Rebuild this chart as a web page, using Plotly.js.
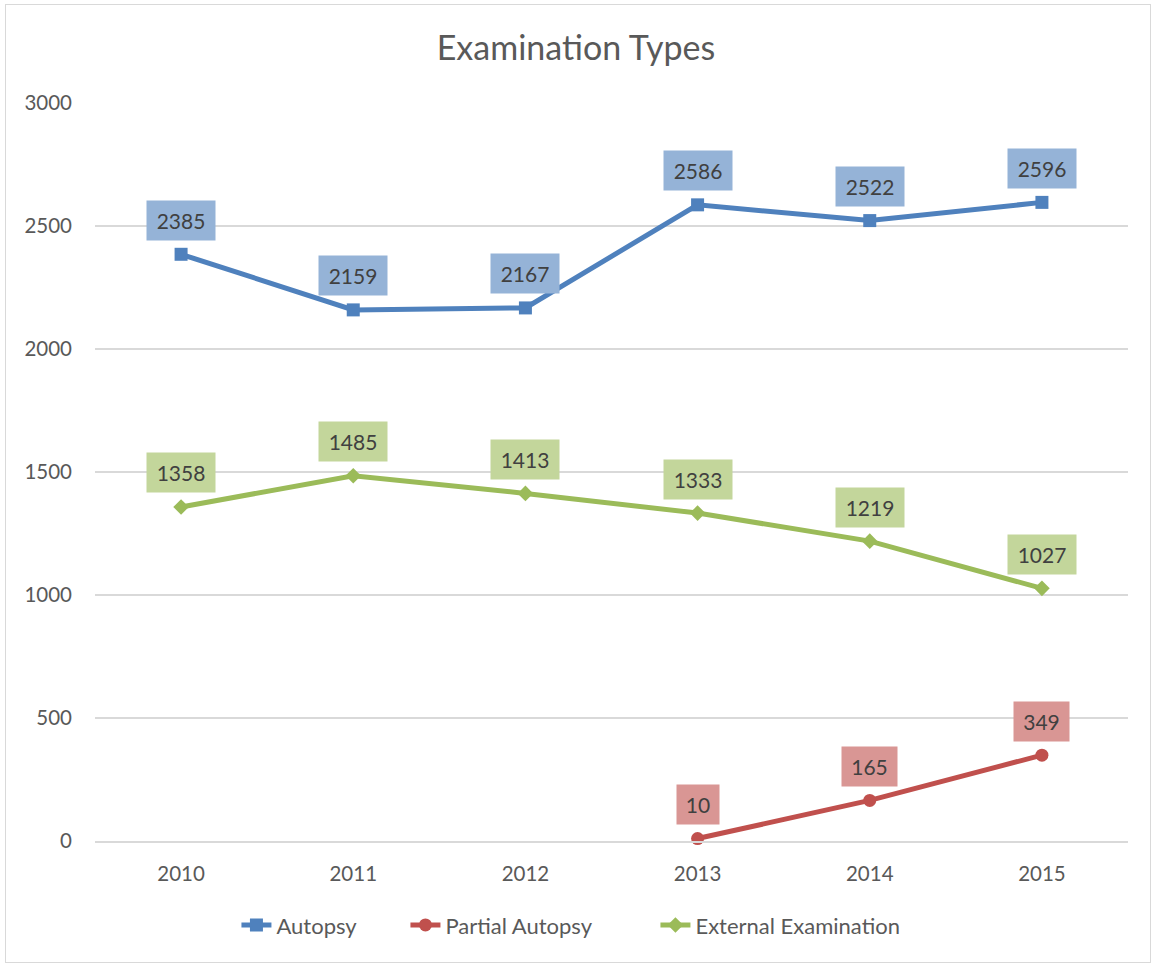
<!DOCTYPE html>
<html><head><meta charset="utf-8">
<script src="https://cdn.plot.ly/plotly-3.0.1.min.js"></script>
<style>
html,body{margin:0;padding:0;background:#fff;}
#frame{position:absolute;left:5px;top:4px;width:1146px;height:959px;box-sizing:border-box;border:1px solid #d9d9d9;}
#chart{position:absolute;left:0;top:0;width:1152px;height:965px;}
</style></head>
<body>
<div id="frame"></div>
<div id="chart"></div>
<script>
const years = ['2010','2011','2012','2013','2014','2015'];
const autopsy = [2385, 2159, 2167, 2586, 2522, 2596];
const partialAutopsy = [null, null, null, 10, 165, 349];
const externalExam = [1358, 1485, 1413, 1333, 1219, 1027];
const seriesNames = ['Autopsy', 'Partial Autopsy', 'External Examination'];
const yTicks = [0, 500, 1000, 1500, 2000, 2500, 3000];

const lineColors = ['#4F81BD', '#C0504D', '#9BBB59'];
const boxColors = ['#95B3D7', '#D99694', '#C3D69B'];
const symbols = ['square', 'circle', 'diamond'];
const markerSizes = [13, 13, 12];
const legendWidths = [124, 205, 220];
const allSeries = [autopsy, partialAutopsy, externalExam];
const FONT = 'Lato, "Open Sans", sans-serif';

const traces = allSeries.map((vals, i) => ({
  type: 'scatter', mode: 'lines+markers', name: seriesNames[i],
  x: years, y: vals, connectgaps: false, cliponaxis: false,
  legendwidth: legendWidths[i],
  line: {color: lineColors[i], width: 5},
  marker: {symbol: symbols[i], size: markerSizes[i], color: lineColors[i]}
}));

const annotations = [];
allSeries.forEach((vals, i) => {
  vals.forEach((v, j) => {
    if (v === null) return;
    const t = String(v);
    annotations.push({
      x: j, y: v, xref: 'x', yref: 'y', text: t, showarrow: false,
      yshift: 34, bgcolor: boxColors[i], width: 13 * t.length + 14, height: 37,
      font: {family: FONT, size: 21, color: '#404040'}
    });
  });
});

const layout = {
  width: 1152, height: 965,
  paper_bgcolor: 'rgba(0,0,0,0)', plot_bgcolor: 'rgba(0,0,0,0)',
  margin: {l: 95, r: 24, t: 103, b: 124},
  title: {text: 'Examination Types', x: 0.5, xanchor: 'center', y: 0.95, yanchor: 'middle',
          font: {family: FONT, size: 34, color: '#595959'}},
  xaxis: {type: 'category', range: [-0.5, 5.5], showgrid: false, zeroline: false,
          showline: true, linecolor: '#d9d9d9', linewidth: 1.5, ticks: '',
          ticklabelstandoff: 14, tickfont: {family: FONT, size: 20.5, color: '#595959'}},
  yaxis: {range: [0, 3000], tickvals: yTicks, showgrid: true, gridcolor: '#d9d9d9', gridwidth: 1.5,
          zeroline: false, showline: false, ticks: '', ticklabelstandoff: 22,
          tickfont: {family: FONT, size: 20.5, color: '#595959'}},
  showlegend: true,
  legend: {orientation: 'h', x: 0.468, xanchor: 'center', y: -0.114, yanchor: 'middle',
           font: {family: FONT, size: 22, color: '#595959'}, tracegroupgap: 0},
  annotations: annotations
};

Plotly.newPlot('chart', traces, layout, {displayModeBar: false, staticPlot: true});
</script>
</body></html>
